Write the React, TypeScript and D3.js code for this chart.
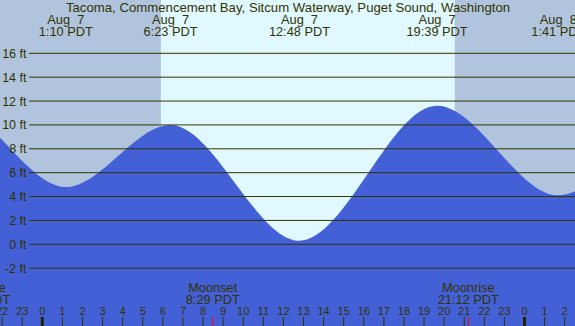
import * as d3 from 'd3';
import { useMemo } from 'react';

// Tide extremes, hours from Aug 7 00:00 PDT (first and last are off-screen anchors)
const tideHours = [-11.5, -4.5, 1.167, 6.383, 12.8, 19.65, 25.683, 31.5, 37.8];
const tideFeet = [1.5, 11.5, 4.8, 10.0, 0.3, 11.6, 4.1, 10.2, 1.0];

// Labels for the extremes shown in the header (index 2..6 of the arrays above)
const extremeDates = ['Aug  7', 'Aug  7', 'Aug  7', 'Aug  7', 'Aug  8'];
const extremeTimes = ['1:10 PDT', '6:23 PDT', '12:48 PDT', '19:39 PDT', '1:41 PDT'];

const sunrise = 5.9;
const sunset = 20.53;

// first one is the Aug 6 moonrise, only its tail shows at the left edge
const moonEvents = ['Moonrise', 'Moonset', 'Moonrise'];
const moonHours = [-3.12, 8.483, 21.2];
const moonTimes = ['20:53 PDT', '8:29 PDT', '21:12 PDT'];

const feetTicks = [-2, 0, 2, 4, 6, 8, 10, 12, 14, 16];
const hourTicks = d3.range(-2, 27);

const title = 'Tacoma, Commencement Bay, Sitcum Waterway, Puget Sound, Washington';

export default function App() {
  const width = 575;
  const height = 326;
  const font = '"Liberation Sans", Arial, sans-serif';
  const ink = '#333300';

  const x = d3.scaleLinear().domain([0, 24]).range([42.3, 524.5]);
  const y = d3.scaleLinear().domain([0, 16]).range([244.3, 53.3]);

  const tidePath = useMemo(() => {
    const pts = tideHours.map((h, i) => [h, tideFeet[i]] as [number, number]);
    return d3
      .area<[number, number]>()
      .x((d) => x(d[0]))
      .y0(height)
      .y1((d) => y(d[1]))
      .curve(d3.curveMonotoneX)(pts);
  }, []);

  return (
    <svg
      width={width}
      height={height}
      style={{ position: 'absolute', left: 0, top: 0, display: 'block' }}
      fontFamily={font}
    >
      {/* night / day background */}
      <rect x={0} y={0} width={width} height={height} fill="#b0c4de" />
      <rect x={x(sunrise)} y={0} width={x(sunset) - x(sunrise)} height={height} fill="#e0f8ff" />

      {/* water */}
      <path d={tidePath ?? ''} fill="#4360d6" />

      {/* grid lines + labels */}
      {feetTicks.map((f) => (
        <g key={f}>
          <line x1={29} x2={width} y1={y(f)} y2={y(f)} stroke="#333300" strokeWidth={1} />
          <text x={26.5} y={y(f) + 4.5} textAnchor="end" fontSize={12.5} fill={ink}>
            {f} ft
          </text>
        </g>
      ))}

      {/* title */}
      <text x={288} y={12} textAnchor="middle" fontSize={13.2} fill={ink}>
        {title}
      </text>

      {/* tide extremes header */}
      {extremeTimes.map((t, i) => (
        <g key={t} transform={`translate(${x(tideHours[i + 2])},0)`}>
          <text y={24} textAnchor="middle" fontSize={12.8} fill={ink} style={{ whiteSpace: 'pre' }}>
            {extremeDates[i]}
          </text>
          <text y={36} textAnchor="middle" fontSize={12.8} fill={ink}>
            {t}
          </text>
        </g>
      ))}

      {/* moon events */}
      {moonEvents.map((m, i) => (
        <g key={moonTimes[i]} transform={`translate(${x(moonHours[i])},0)`}>
          <text y={291.5} textAnchor="middle" fontSize={12.8} fill={ink}>
            {m}
          </text>
          <text y={303.5} textAnchor="middle" fontSize={12.8} fill={ink}>
            {moonTimes[i]}
          </text>
          <line x1={0} x2={0} y1={317} y2={height} stroke="#ff0000" strokeWidth={1} />
        </g>
      ))}

      {/* hour axis */}
      {hourTicks.map((h) => {
        const label = ((h % 24) + 24) % 24;
        const midnight = label === 0;
        return (
          <g key={h} transform={`translate(${x(h)},0)`}>
            <line
              x1={0}
              x2={0}
              y1={317}
              y2={height}
              stroke={midnight ? '#222200' : ink}
              strokeWidth={midnight ? 3 : 1}
            />
            <text y={315} textAnchor="middle" fontSize={11} fill={ink}>
              {label}
            </text>
          </g>
        );
      })}
    </svg>
  );
}
